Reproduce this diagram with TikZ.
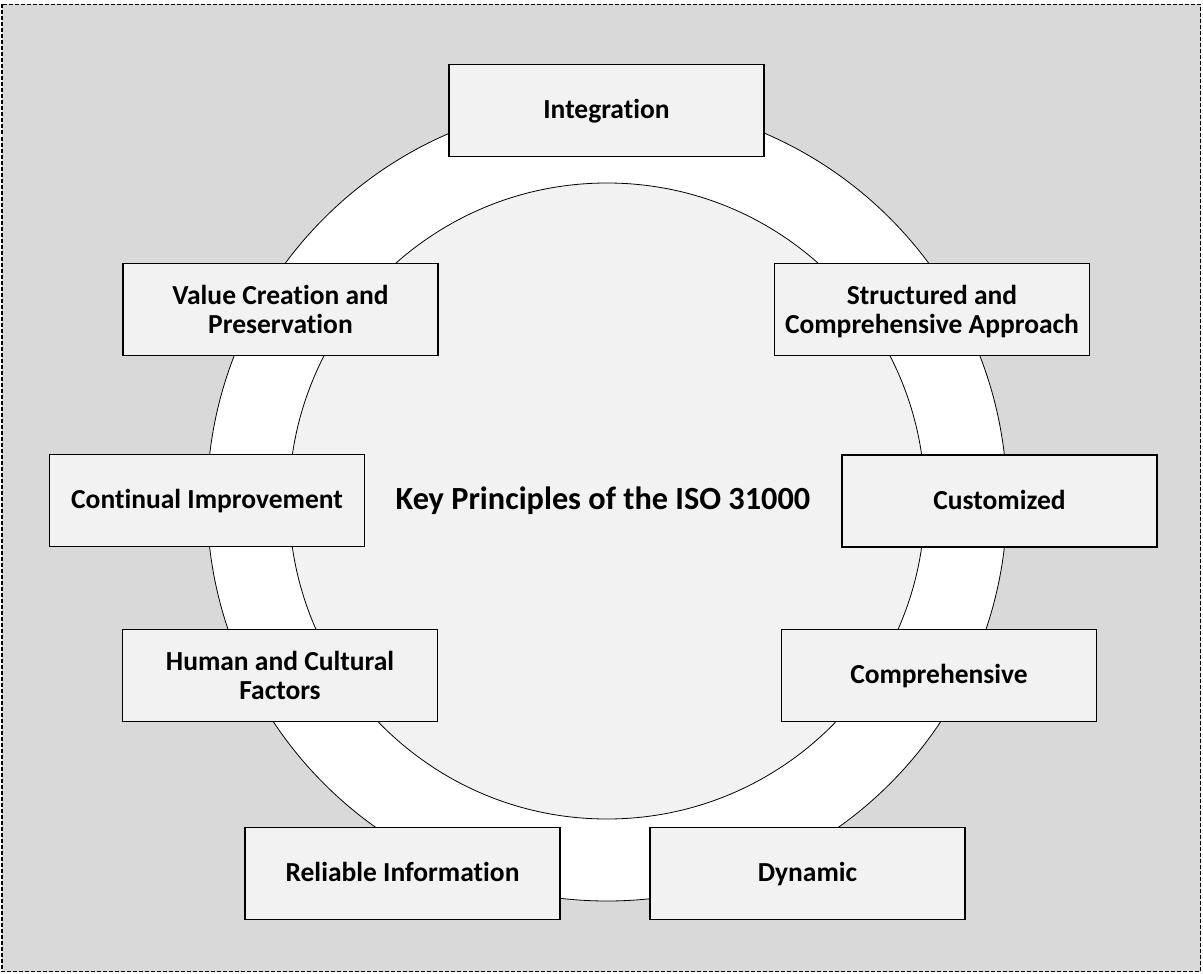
\documentclass[tikz,border=0pt]{standalone}
\usepackage{fontspec}
\setmainfont{Carlito}[Ligatures={NoCommon}]
\definecolor{bggray}{HTML}{D9D9D9}
\definecolor{boxgray}{HTML}{F2F2F2}
\begin{document}
\begin{tikzpicture}[x=1pt,y=-1pt,
  principle/.style={draw=black, line width=1.4pt, fill=boxgray, minimum width=315pt, minimum height=92pt,
    inner sep=0pt, align=center, font=\fontsize{27.5}{29}\selectfont\bfseries},
  oneline/.style={principle, text height=17.7pt, text depth=1.7pt},
  twoline/.style={principle, text depth=-1pt},
  ringline/.style={draw=black, line width=0.8pt}]
\useasboundingbox (0,0) rectangle (1203,974);
\fill[bggray] (2,4.5) rectangle (1200.5,971.5);
\draw[line width=1.3pt, dash pattern=on 4pt off 2pt] (2,4.5) rectangle (1200.5,971.5);
\coordinate (c) at (607,501);
\draw[ringline, fill=white] (c) circle[radius=400];
\draw[ringline, fill=boxgray] (c) circle[radius=318];
\node[font=\fontsize{32.3}{36}\selectfont\bfseries, text height=20.8pt, text depth=1pt] (title) at (603,500) {Key Principles of the ISO 31000};
\node[oneline] (integ) at (606.5,110.5) {Integration};
\node[twoline] (value) at (280.5,309.5) {Value Creation and\\Preservation};
\node[twoline] (struct) at (932,309.5) {Structured and\\Comprehensive Approach};
\node[oneline] (contin) at (207,500.5) {Continual Improvement};
\node[oneline] (custom) at (999.5,501) {Customized};
\node[twoline] (human) at (280,675.5) {Human and Cultural\\Factors};
\node[oneline] (compre) at (939,675.5) {Comprehensive};
\node[oneline] (reliab) at (402.5,873.5) {Reliable Information};
\node[oneline] (dynam) at (807.5,873.5) {Dynamic};
\end{tikzpicture}
\end{document}
